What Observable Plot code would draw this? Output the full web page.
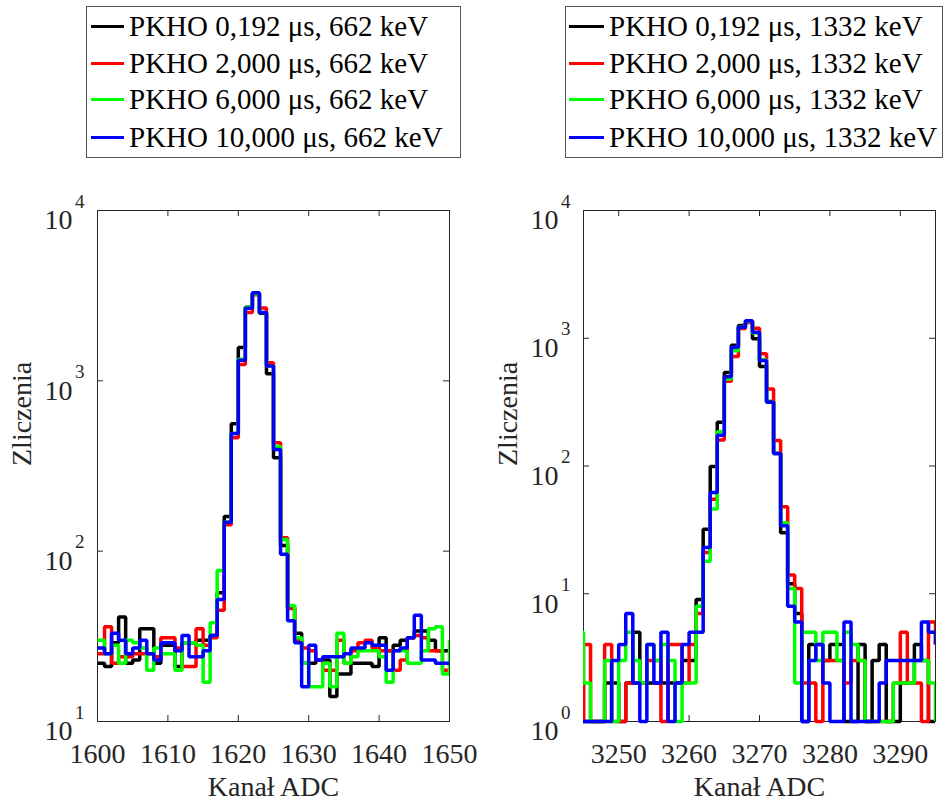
<!DOCTYPE html>
<html><head><meta charset="utf-8">
<script src="https://cdn.jsdelivr.net/npm/d3@7"></script>
<script src="https://cdn.jsdelivr.net/npm/@observablehq/plot@0.6"></script>
<style>
body{margin:0;background:#fff;}
#page{position:relative;width:944px;height:801px;overflow:hidden;font-family:"Liberation Serif","Times New Roman",serif;background:#fff;}
.leg{position:absolute;top:6px;height:152px;border:1px solid #555;box-sizing:border-box;background:#fff;}
.row{position:absolute;left:0;height:30px;display:flex;align-items:center;white-space:nowrap;font-size:29px;color:#000;}
.sw{display:inline-block;height:3px;margin-right:5px;}
.plot{position:absolute;top:160px;}
.plot svg text{font-family:"Liberation Serif","Times New Roman",serif;}
</style></head><body><div id="page">
<div class="leg" id="legL" style="left:86px;width:375px;"></div>
<div class="leg" id="legR" style="left:565px;width:378px;"></div>
<div class="plot" id="plotL" style="left:0px;"></div>
<div class="plot" id="plotR" style="left:472px;"></div>
</div>
<script>
// ---------- data ----------
const seriesColors = ["#000000", "#ff0000", "#00ff00", "#0000ff"];
const legendLeft = ["PKHO 0,192 μs, 662 keV", "PKHO 2,000 μs, 662 keV", "PKHO 6,000 μs, 662 keV", "PKHO 10,000 μs, 662 keV"];
const legendRight = ["PKHO 0,192 μs, 1332 keV", "PKHO 2,000 μs, 1332 keV", "PKHO 6,000 μs, 1332 keV", "PKHO 10,000 μs, 1332 keV"];

const xTicksLeft = [1600, 1610, 1620, 1630, 1640, 1650];
const xTicksRight = [3250, 3260, 3270, 3280, 3290];
const yTicksLeft = [10, 100, 1000, 10000];
const yTicksRight = [1, 10, 100, 1000, 10000];

const leftCh = [1600,1601,1602,1603,1604,1605,1606,1607,1608,1609,1610,1611,1612,1613,1614,1615,1616,1617,1618,1619,1620,1621,1622,1623,1624,1625,1626,1627,1628,1629,1630,1631,1632,1633,1634,1635,1636,1637,1638,1639,1640,1641,1642,1643,1644,1645,1646,1647,1648,1649,1650];
const leftBlack = [22,21,29,41,22,23,35,35,22,28, 28,21,29,29,30,30,32,57,160,560, 1570,2700,3250,2490,1100,353,108,47,33,22, 22,23,23,14,19,19,22,22,22,21, 31,26,28,30,31,34,34,30,26,26, 26];
const leftRed = [25,36,22,24,24,25,25,25,24,31, 31,27,21,21,35,28,31,45,143,464, 1245,2520,3200,2680,1275,433,120,46,30,27, 26,23,20,20,30,22,26,29,30,27, 26,26,20,23,31,32,31,26,26,20, 20];
const leftGreen = [30,25,28,22,30,29,27,20,27,25, 25,20,29,29,28,17,38,77,148,490, 1340,2700,3250,2520,1220,410,117,48,31,22, 16,16,22,16,33,22,24,26,26,26, 24,17,26,26,22,22,26,35,36,19, 30];
const leftBlue = [27,25,33,30,25,27,30,25,23,29, 29,26,32,24,24,26,32,52,148,490, 1320,2670,3290,2520,1220,395,96,39,29,16, 28,23,24,24,24,25,27,27,29,28, 28,20,26,27,31,42,23,23,22,22, 22];

const rightCh = [3244,3245,3246,3247,3248,3249,3250,3251,3252,3253,3254,3255,3256,3257,3258,3259,3260,3261,3262,3263,3264,3265,3266,3267,3268,3269,3270,3271,3272,3273,3274,3275,3276,3277,3278,3279,3280,3281,3282,3283,3284,3285,3286,3287,3288,3289,3290,3291,3292,3293,3294,3295];
const rightBlack = [2,1,1,1,2,2,1,2,5,2, 2,2,2,2,2,3,3,9,32,99, 220,540,880,1260,1340,990,600,320,125,30, 12,7,1,4,4,3,4,4,1,1, 4,1,3,4,1,1,2,2,4,3, 1,1];
const rightRed = [1,4,1,1,4,1,1,2,2,2, 3,3,1,4,4,2,4,7,21,55, 160,460,720,1190,1330,1200,755,400,158,48, 14,11,2,2,1,3,3,3,2,3, 3,1,1,1,1,2,5,2,2,1, 6,4];
const rightGreen = [5,2,1,1,3,1,3,5,3,2, 4,3,4,3,1,2,2,8,18,46, 185,480,800,1220,1360,1100,680,316,125,36, 11,2,5,5,3,5,5,3,5,4, 3,1,1,1,1,2,2,2,3,3, 2,1];
const rightBlue = [1,1,1,1,1,3,4,7,2,1, 4,2,5,1,2,4,5,5,23,62, 174,500,850,1220,1370,1115,670,316,125,34, 8,6,1,3,4,2,1,1,6,1, 1,1,1,2,3,3,3,3,3,6, 5,4];

// ---------- legends ----------
function buildLegend(el, labels, swW, swLeft) {
  const centers = [26, 63, 99, 137];
  labels.forEach((lab, i) => {
    const r = document.createElement("div");
    r.className = "row";
    r.style.top = (centers[i] - 15 - 7) + "px";
    r.style.paddingLeft = swLeft + "px";
    const s = document.createElement("span");
    s.className = "sw";
    s.style.width = swW + "px";
    s.style.background = seriesColors[i];
    const t = document.createElement("span");
    t.textContent = lab;
    r.appendChild(s); r.appendChild(t);
    el.appendChild(r);
  });
}
buildLegend(document.getElementById("legL"), legendLeft, 33, 4);
buildLegend(document.getElementById("legR"), legendRight, 35, 3);

// ---------- plots ----------
const toRows = (ch, vals) => ch.map((c, i) => ({ch: c, v: vals[i]}));
const axisColor = "#262626";
const FONT = "Liberation Serif";

function panel(cfg) {
  const innerW = cfg.width - cfg.ml - cfg.mr;
  const innerH = cfg.height - cfg.mt - cfg.mb;
  const txt = {fontFamily: FONT, fill: axisColor, lineAnchor: "middle"};
  const marks = [
    Plot.frame({stroke: axisColor, strokeWidth: 1}),
    Plot.tickX(cfg.xticks, {x: d => d, stroke: axisColor, insetTop: innerH - 6}),
    Plot.tickX(cfg.xticks, {x: d => d, stroke: axisColor, insetBottom: innerH - 6}),
    Plot.tickY(cfg.yticks, {y: d => d, stroke: axisColor, insetRight: innerW - 6}),
    Plot.tickY(cfg.yticks, {y: d => d, stroke: axisColor, insetLeft: innerW - 6}),
    ...cfg.series.map((vals, i) => Plot.line(toRows(cfg.ch, vals), {
      x: "ch", y: "v", stroke: seriesColors[i], strokeWidth: 3.5,
      curve: "step-after", strokeLinejoin: "miter", strokeLinecap: "butt", clip: true
    })),
    Plot.text(cfg.xticks, {...txt, x: d => d, frameAnchor: "bottom", dy: 33, text: d => String(d), fontSize: 28}),
    Plot.text(cfg.yticks, {...txt, y: d => d, frameAnchor: "left", dx: -25, dy: 10, text: () => "10", textAnchor: "end", fontSize: 28}),
    Plot.text(cfg.yticks, {...txt, y: d => d, frameAnchor: "left", dx: -13, dy: -9, text: d => String(Math.round(Math.log10(d))), textAnchor: "end", fontSize: 19}),
    Plot.text(["Kanał ADC"], {...txt, frameAnchor: "bottom", dy: 66, text: d => d, fontSize: 28}),
    Plot.text(["Zliczenia"], {...txt, frameAnchor: "left", dx: -75, rotate: -90, text: d => d, fontSize: 28})
  ];
  const svg = Plot.plot({
    width: cfg.width, height: cfg.height,
    marginLeft: cfg.ml, marginRight: cfg.mr, marginTop: cfg.mt, marginBottom: cfg.mb,
    x: {domain: cfg.xdomain, axis: null},
    y: {type: "log", domain: cfg.ydomain, axis: null},
    style: {background: "transparent", overflow: "visible"},
    marks
  });
  // let thick lines sitting on the bottom/top border show fully (only x is clipped)
  svg.querySelectorAll("clipPath rect").forEach(r => {
    const y = +r.getAttribute("y"), h = +r.getAttribute("height");
    r.setAttribute("y", y - 5);
    r.setAttribute("height", h + 10);
  });
  return svg;
}

document.getElementById("plotL").appendChild(panel({
  width: 470, height: 641, ml: 97, mr: 21, mt: 50, mb: 80,
  xdomain: [1600, 1650], ydomain: [10, 10000],
  xticks: xTicksLeft, yticks: yTicksLeft, ch: leftCh,
  series: [leftBlack, leftRed, leftGreen, leftBlue]
}));
document.getElementById("plotR").appendChild(panel({
  width: 472, height: 641, ml: 111, mr: 9, mt: 50, mb: 80,
  xdomain: [3245, 3295], ydomain: [1, 10000],
  xticks: xTicksRight, yticks: yTicksRight, ch: rightCh,
  series: [rightBlack, rightRed, rightGreen, rightBlue]
}));
</script>
</body></html>
